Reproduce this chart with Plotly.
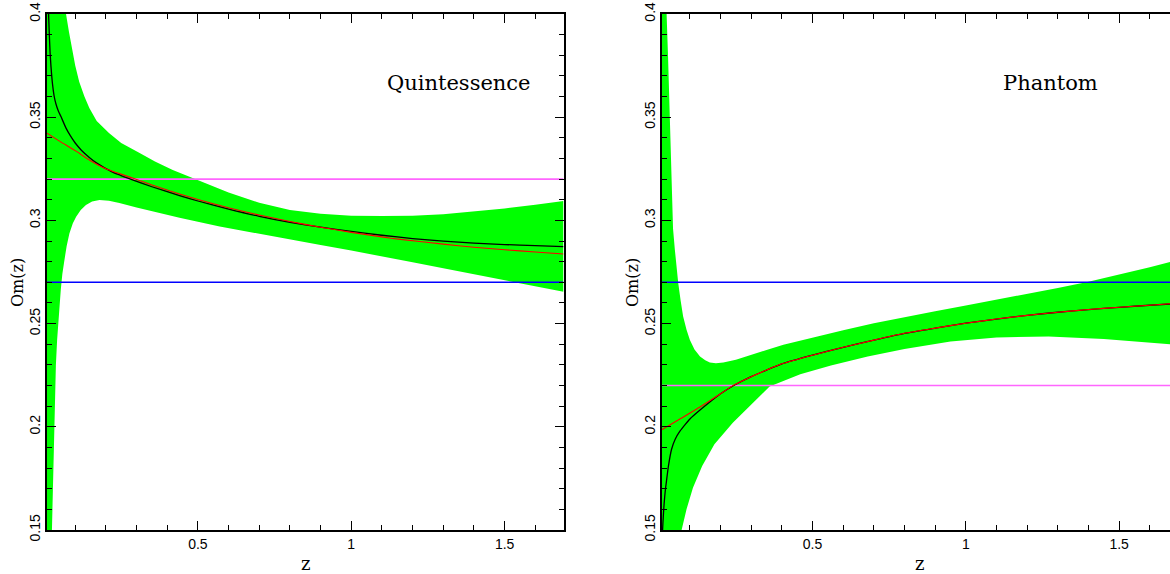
import plotly.graph_objects as go

# ---------------- data: Quintessence panel ----------------
q_black_z = [0.008, 0.010, 0.012, 0.0154, 0.018, 0.021, 0.026, 0.031, 0.037, 0.045, 0.0535, 0.07, 0.085, 0.10,
             0.12, 0.146, 0.168, 0.22, 0.287, 0.35, 0.44, 0.5, 0.6, 0.7, 0.8, 0.9, 1.0, 1.1, 1.2, 1.3, 1.4,
             1.5, 1.6, 1.692]
q_black_v = [0.44, 0.42, 0.405, 0.3908, 0.3815, 0.3745, 0.3660, 0.3605, 0.3565, 0.3530, 0.3503, 0.3447,
             0.3408, 0.3375, 0.3340, 0.3305, 0.3280, 0.3235, 0.3196, 0.3163, 0.3120, 0.3094, 0.3055, 0.3020,
             0.2991, 0.2967, 0.2947, 0.2928, 0.2912, 0.2900, 0.2890, 0.2883, 0.2878, 0.2873]
q_red_z = [0.008, 0.05, 0.1, 0.146, 0.2, 0.287, 0.35, 0.44, 0.5, 0.6, 0.7, 0.8, 0.9, 1.0, 1.1, 1.16, 1.3, 1.4,
           1.5, 1.6, 1.692]
q_red_v = [0.3423, 0.3383, 0.3338, 0.3293, 0.3250, 0.3205, 0.3172, 0.3128, 0.3101, 0.3061, 0.3026, 0.2995,
           0.2967, 0.2942, 0.2920, 0.2908, 0.2885, 0.2870, 0.2858, 0.2847, 0.2837]
q_upper_z = [0.008, 0.05, 0.062, 0.07, 0.08, 0.09, 0.10, 0.113, 0.13, 0.146, 0.17, 0.21, 0.25, 0.31, 0.36,
             0.418, 0.5, 0.6, 0.7, 0.8, 0.9, 1.0, 1.1, 1.2, 1.3, 1.4, 1.5, 1.6, 1.692]
q_upper_v = [0.60, 0.44, 0.412, 0.400, 0.391, 0.3826, 0.3750, 0.3672, 0.3600, 0.3545, 0.3482, 0.3423,
             0.3375, 0.3326, 0.3285, 0.3244, 0.3196, 0.3135, 0.3085, 0.3050, 0.3032, 0.3023, 0.3021, 0.3023,
             0.3030, 0.3043, 0.3058, 0.3076, 0.3094]
q_lower_z = [0.008, 0.024, 0.028, 0.032, 0.037, 0.041, 0.046, 0.053, 0.058, 0.064, 0.072, 0.081, 0.092, 0.103,
             0.118, 0.135, 0.155, 0.179, 0.21, 0.244, 0.3, 0.352, 0.44, 0.571, 0.7, 0.8, 0.9, 1.0, 1.095, 1.2,
             1.3, 1.4, 1.5, 1.6, 1.692]
q_lower_v = [0.05, 0.1515, 0.175, 0.1960, 0.2300, 0.2420, 0.2530, 0.2665, 0.2740, 0.2800, 0.2875, 0.2937,
             0.2985, 0.3018, 0.3050, 0.3075, 0.3092, 0.3099, 0.3095, 0.3084, 0.3062, 0.3042, 0.3013, 0.2970,
             0.2935, 0.2908, 0.2881, 0.2854, 0.2828, 0.2797, 0.2768, 0.2739, 0.2710, 0.2680, 0.2654]
q_magenta = 0.32
q_blue = 0.27

# ---------------- data: Phantom panel ----------------
p_black_z = [0.008, 0.010, 0.012, 0.016, 0.020, 0.024, 0.030, 0.040, 0.052, 0.068, 0.085, 0.1, 0.133, 0.165,
             0.2, 0.243, 0.3, 0.35, 0.4, 0.5, 0.6, 0.7, 0.8, 0.9, 1.0, 1.1, 1.2, 1.3, 1.4, 1.5, 1.6, 1.666]
p_black_v = [0.140, 0.147, 0.1534, 0.1630, 0.1695, 0.1742, 0.1810, 0.1890, 0.1940, 0.1980, 0.2012, 0.2038,
             0.2081, 0.2120, 0.2160, 0.2200, 0.2243, 0.2275, 0.2305, 0.2347, 0.2385, 0.2420, 0.2453, 0.2478,
             0.2502, 0.2522, 0.2540, 0.2555, 0.2568, 0.2579, 0.2589, 0.2595]
p_red_z = [0.008, 0.07, 0.133, 0.2, 0.243, 0.3, 0.35, 0.4, 0.5, 0.6, 0.7, 0.8, 0.9, 1.0, 1.1, 1.2, 1.3, 1.4,
           1.5, 1.6, 1.666]
p_red_v = [0.1985, 0.2040, 0.2096, 0.2160, 0.2202, 0.2243, 0.2275, 0.2305, 0.2347, 0.2385, 0.2420, 0.2453,
           0.2478, 0.2502, 0.2522, 0.2540, 0.2555, 0.2568, 0.2579, 0.2589, 0.2596]
p_upper_z = [0.008, 0.024, 0.029, 0.033, 0.037, 0.0405, 0.045, 0.051, 0.056, 0.062, 0.07, 0.078, 0.089, 0.100,
             0.115, 0.133, 0.15, 0.165, 0.185, 0.209, 0.25, 0.296, 0.35, 0.405, 0.5, 0.6, 0.7, 0.8, 0.9, 1.0,
             1.1, 1.2, 1.3, 1.4, 1.5, 1.6, 1.666]
p_upper_v = [0.60, 0.400, 0.378, 0.358, 0.334, 0.3099, 0.2960, 0.2857, 0.2770, 0.2695, 0.2610, 0.2534, 0.2470,
             0.2420, 0.2375, 0.2340, 0.2322, 0.2312, 0.2308, 0.2311, 0.2325, 0.2348, 0.2372, 0.2397, 0.2433,
             0.2468, 0.2502, 0.2532, 0.2560, 0.2588, 0.2615, 0.2643, 0.2672, 0.2703, 0.2737, 0.2773, 0.2798]
p_lower_z = [0.008, 0.06, 0.073, 0.089, 0.11, 0.14, 0.18, 0.24, 0.3, 0.36, 0.46, 0.56, 0.68, 0.8, 0.95, 1.1,
             1.27, 1.45, 1.666]
p_lower_v = [0.05, 0.12, 0.150, 0.160, 0.1705, 0.1810, 0.1915, 0.2020, 0.2110, 0.2195, 0.2255, 0.2297, 0.2340,
             0.2377, 0.2413, 0.2433, 0.2437, 0.2425, 0.2400]
p_magenta = 0.22
p_blue = 0.27

panel_labels = ["Quintessence", "Phantom"]
x_ticks = [0.5, 1, 1.5]
x_ticktext = ["0.5", "1", "1.5"]
x_ranges = [[0.008, 1.692], [0.009, 1.666]]
y_range = [0.15, 0.4]

GREEN = "#00ff00"
MAGENTA = "#ff66ff"
BLUE = "#0000ff"

fig = go.Figure()

panels = [
    (q_upper_z, q_upper_v, q_lower_z, q_lower_v, q_magenta, q_blue, q_black_z, q_black_v, q_red_z, q_red_v),
    (p_upper_z, p_upper_v, p_lower_z, p_lower_v, p_magenta, p_blue, p_black_z, p_black_v, p_red_z, p_red_v),
]

for i, (uz, uv, lz, lv, mag, blu, bz, bv, rz, rv) in enumerate(panels):
    xa = "x" if i == 0 else "x2"
    ya = "y" if i == 0 else "y2"
    xr = x_ranges[i]
    fig.add_trace(go.Scatter(x=uz + lz[::-1], y=uv + lv[::-1], fill="toself", fillcolor=GREEN,
                             line=dict(width=0, color=GREEN), mode="lines", xaxis=xa, yaxis=ya,
                             hoverinfo="skip", showlegend=False))
    fig.add_trace(go.Scatter(x=xr, y=[mag, mag], mode="lines", line=dict(color=MAGENTA, width=1.6),
                             xaxis=xa, yaxis=ya, showlegend=False))
    fig.add_trace(go.Scatter(x=xr, y=[blu, blu], mode="lines", line=dict(color=BLUE, width=1.6),
                             xaxis=xa, yaxis=ya, showlegend=False))
    fig.add_trace(go.Scatter(x=bz, y=bv, mode="lines", line=dict(color="black", width=1.3, shape="spline",
                                                                   smoothing=0.5),
                             xaxis=xa, yaxis=ya, showlegend=False))
    fig.add_trace(go.Scatter(x=rz, y=rv, mode="lines", line=dict(color="#ff0000", width=1.1, shape="spline",
                                                                   smoothing=0.5),
                             xaxis=xa, yaxis=ya, showlegend=False))

L, R, T, B = 47, 0, 14, 44
W, H = 1170, 574
pw = W - L - R
d1 = [0, (563.5 - L) / pw]
d2 = [(662 - L) / pw, 1]

tickfont = dict(family="Liberation Sans, Arial, sans-serif", size=14, color="black")

def xaxis_cfg(domain, rng, anchor):
    return dict(domain=domain, range=rng, anchor=anchor, showgrid=False, zeroline=False,
                showline=True, linecolor="black", linewidth=1.5, mirror="ticks",
                ticks="inside", ticklen=9, tickwidth=1, tickcolor="black",
                tickvals=x_ticks, ticktext=x_ticktext, tickfont=tickfont,
                minor=dict(dtick=0.1, tick0=0, ticks="inside", ticklen=5, tickwidth=1, tickcolor="black"))

def yaxis_cfg(anchor, mirror):
    return dict(range=y_range, anchor=anchor, domain=[0, 1], showgrid=False, zeroline=False,
                showline=True, linecolor="black", linewidth=1.5, mirror=mirror,
                ticks="inside", ticklen=9, tickwidth=1, tickcolor="black",
                dtick=0.05, tick0=0, tickangle=-90, tickfont=tickfont,
                minor=dict(dtick=0.01, tick0=0, ticks="inside", ticklen=5, tickwidth=1, tickcolor="black"))

fig.update_layout(
    width=W, height=H, margin=dict(l=L, r=R, t=T, b=B),
    paper_bgcolor="white", plot_bgcolor="white",
    xaxis=xaxis_cfg(d1, x_ranges[0], "y"),
    yaxis=yaxis_cfg("x", "ticks"),
    xaxis2=xaxis_cfg(d2, x_ranges[1], "y2"),
    yaxis2=yaxis_cfg("x2", False),
    showlegend=False,
)

serif = "DejaVu Serif, Liberation Serif, serif"

def px_x(px):
    return (px - L) / pw

def px_y(py):
    return (H - B - py) / (H - T - B)

annos = [
    dict(text=panel_labels[0], x=px_x(459), y=px_y(83)),
    dict(text=panel_labels[1], x=px_x(1050), y=px_y(83)),
]
for a in annos:
    fig.add_annotation(xref="paper", yref="paper", x=a["x"], y=a["y"], text=a["text"], showarrow=False,
                       xanchor="center", yanchor="middle", font=dict(family=serif, size=21, color="black"))

for cx in (17, 632):
    fig.add_annotation(xref="paper", yref="paper", x=px_x(cx), y=px_y(283), text="Om(z)", showarrow=False,
                       textangle=-90, xanchor="center", yanchor="middle",
                       font=dict(family=serif, size=16, color="black"))
for cx in (305, 919):
    fig.add_annotation(xref="paper", yref="paper", x=px_x(cx), y=px_y(563), text="z", showarrow=False,
                       xanchor="center", yanchor="middle", font=dict(family=serif, size=18, color="black"))

fig.write_html("out.html", config={"displayModeBar": False},
               post_script="document.body.style.margin='0';document.body.style.padding='0';"
                           "document.documentElement.style.overflow='hidden';")
